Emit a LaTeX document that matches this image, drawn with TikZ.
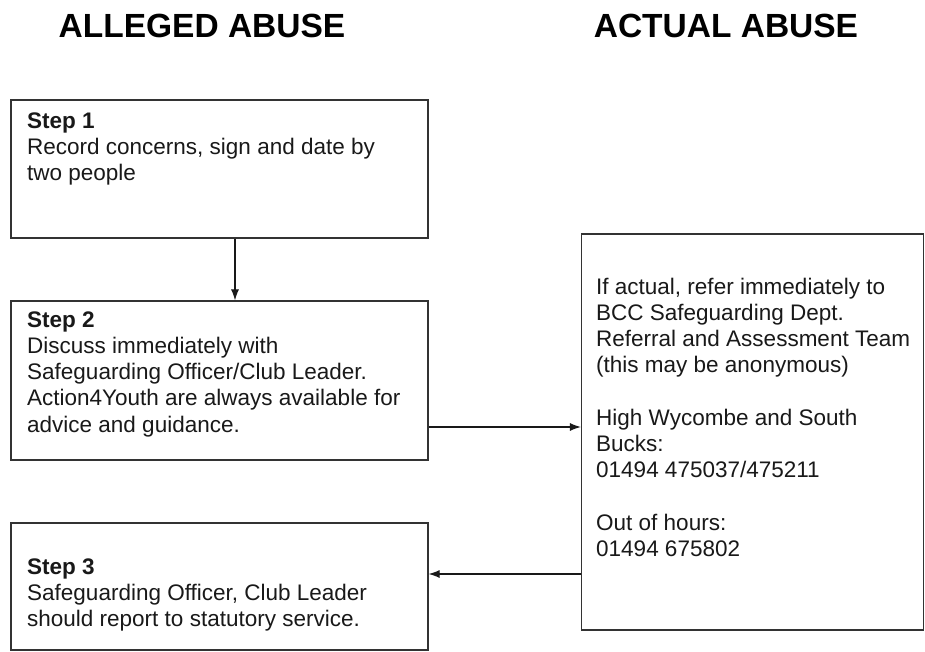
\documentclass[tikz,border=0pt]{standalone}
\usepackage{fontspec}
\setmainfont{Liberation Sans}
\usepackage{tikz}
\usetikzlibrary{arrows.meta,positioning}

\begin{document}
\begin{tikzpicture}[x=1pt,y=-1pt]
      \tikzstyle{stepbox}=[draw=black!80, line width=1.2pt, fill=none, inner sep=0pt]
      \tikzstyle{step_text}=[anchor=north west, inner sep=0pt, align=left, text=black!90,
        font=\fontsize{22.5}{26.2}\selectfont]
      \tikzstyle{title}=[anchor=base, inner sep=0pt, font=\fontsize{33.5}{38}\selectfont\bfseries]
      \tikzstyle{link}=[line width=1.1pt, draw=black!90, -{Latex[length=11pt,width=8pt]}]

      \useasboundingbox[fill=white] (0,0) rectangle (925,652);

      \node [title] (alleged) at (202,38) {ALLEGED ABUSE};
      \node [title] (actualtitle) at (726,38) {ACTUAL ABUSE};

      \node [stepbox, minimum width=417pt, minimum height=138pt] (step1) at (219.5,169) {};
      \node [stepbox, minimum width=417pt, minimum height=159pt] (step2) at (219.5,380.5) {};
      \node [stepbox, minimum width=417pt, minimum height=127pt] (step3) at (219.5,586.5) {};
      \node [stepbox, minimum width=342pt, minimum height=396pt] (actual) at (752.5,432) {};

      \node [step_text] (text1) at (27,109.7) {\strut\textbf{Step 1}\\Record concerns, sign and date by\\two people};
      \node [step_text] (text2) at (27,308.7) {\strut\textbf{Step 2}\\Discuss immediately with\\Safeguarding Officer/Club Leader.\\Action4Youth are always available for\\advice and guidance.};
      \node [step_text] (text3) at (27,555.7) {\strut\textbf{Step 3}\\Safeguarding Officer, Club Leader\\should report to statutory service.};
      \node [step_text] (text4) at (596,275.7) {\strut If actual, refer immediately to\\BCC Safeguarding Dept.\\Referral and Assessment Team\\(this may be anonymous)\\[26.2pt]High Wycombe and South\\Bucks:\\01494 475037/475211\\[26.2pt]Out of hours:\\01494 675802};

      \draw [link] (step1.south -| 235,0) -- (step2.north -| 235,0);
      \draw [link] (step2.east |- 0,427) -- (actual.west |- 0,427);
      \draw [link] (actual.west |- 0,574) -- (step3.east |- 0,574);
\end{tikzpicture}
\end{document}
